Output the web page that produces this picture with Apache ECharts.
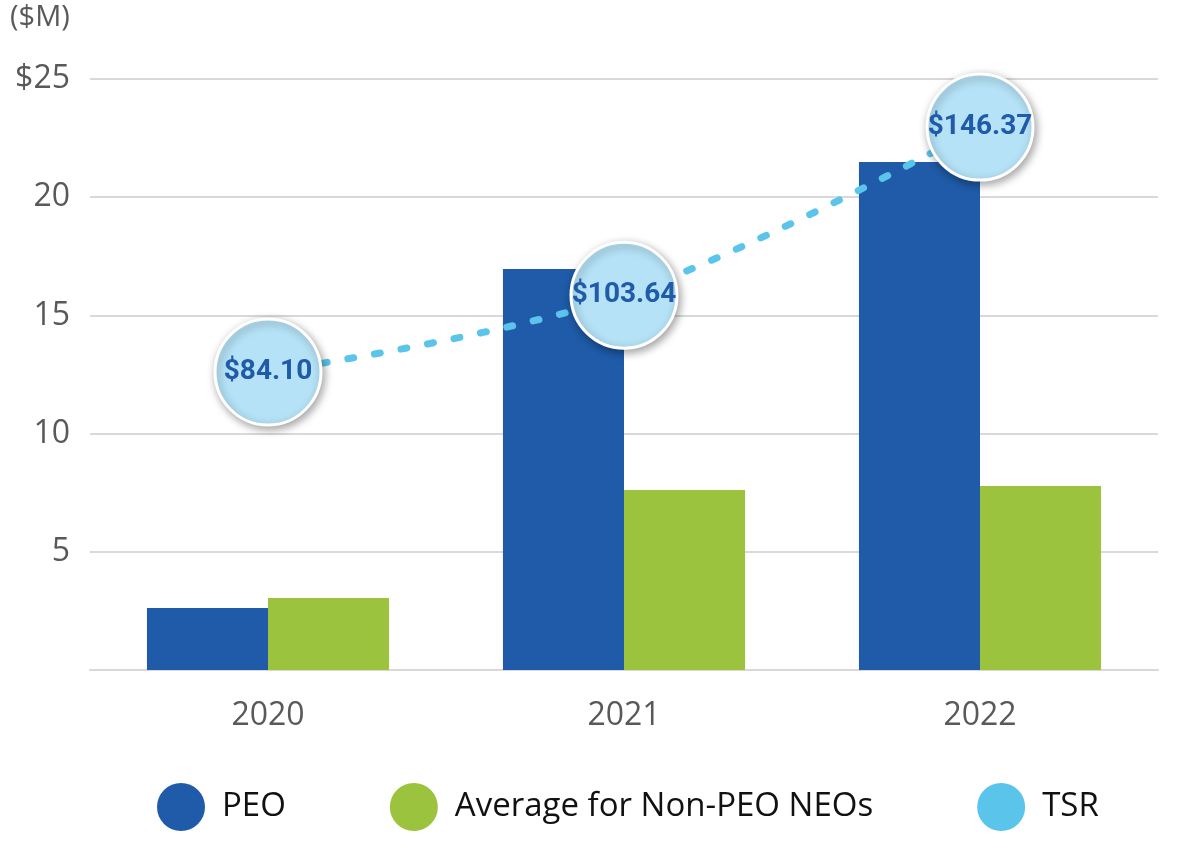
<!DOCTYPE html>
<html>
<head>
<meta charset="utf-8">
<script src="https://cdn.jsdelivr.net/npm/echarts@6/dist/echarts.min.js"></script>
<style>
html,body{margin:0;padding:0;background:#fff;}
#chart{width:1182px;height:850px;}
</style>
</head>
<body>
<div id="chart"></div>
<script>
const categories = ['2020', '2021', '2022'];
const peoValues = [2.62, 16.96, 21.49];
const nonPeoValues = [3.05, 7.61, 7.78];
const tsrValues = [84.10, 103.64, 146.37];
const yTickLabels = ['', '5', '10', '15', '20', '$25'];
const seriesNames = ['PEO', 'Average for Non-PEO NEOs', 'TSR'];

const chart = echarts.init(document.getElementById('chart'));
const baseFont = '"Open Sans", "Noto Sans", sans-serif';
const condFont = 'Roboto, "Noto Sans", sans-serif';

chart.setOption({
  animation: false,
  backgroundColor: '#fff',
  graphic: [{
    type: 'text', left: 10, top: 3,
    style: { text: '($M)', fontSize: 29, fill: '#595959', fontFamily: baseFont }
  }],
  grid: { left: 90, right: 24, top: 79, bottom: 180 },
  legend: {
    left: 152, top: 778,
    itemWidth: 48, itemHeight: 48, itemGap: 104,
    icon: 'circle',
    textStyle: { fontSize: 33, color: '#111', fontFamily: baseFont, padding: [0, 0, 0, 12] },
    data: [
      { name: seriesNames[0] },
      { name: seriesNames[1] },
      { name: seriesNames[2], itemStyle: { color: '#5BC4EA', borderWidth: 0, shadowBlur: 0, shadowOffsetX: 0, shadowOffsetY: 0 }, lineStyle: { opacity: 0 } }
    ]
  },
  xAxis: {
    type: 'category',
    data: categories,
    axisLine: { lineStyle: { color: '#d9d9d9', width: 2 } },
    axisTick: { show: false },
    axisLabel: { fontSize: 32, color: '#595959', margin: 30, fontFamily: baseFont }
  },
  yAxis: [{
    type: 'value', min: 0, max: 25, interval: 5,
    axisLine: { show: false }, axisTick: { show: false },
    splitLine: { lineStyle: { color: '#d9d9d9', width: 2 } },
    axisLabel: {
      fontSize: 32, color: '#595959', margin: 20, fontFamily: baseFont,
      formatter: v => yTickLabels[Math.round(v / 5)]
    }
  }, {
    type: 'value', min: 8.35, max: 158.6,
    show: false, splitLine: { show: false }
  }],
  series: [{
    name: seriesNames[0], type: 'bar', data: peoValues,
    barWidth: '34%', barGap: '0%',
    itemStyle: { color: '#1F5BA8' }
  }, {
    name: seriesNames[1], type: 'bar', data: nonPeoValues,
    barWidth: '34%', barGap: '0%',
    itemStyle: { color: '#9BC33D' }
  }, {
    name: seriesNames[2], type: 'line', yAxisIndex: 1, data: tsrValues,
    smooth: 0.35, z: 5,
    symbol: 'circle', symbolSize: 106,
    lineStyle: { color: '#5BC4EA', width: 7, type: [6, 21], cap: 'round' },
    itemStyle: {
      color: '#B5E2F6', borderColor: '#fff', borderWidth: 3,
      shadowBlur: 8, shadowColor: 'rgba(0,0,0,0.35)', shadowOffsetX: 2, shadowOffsetY: 3
    },
    label: {
      show: true, position: 'inside',
      formatter: p => '$' + p.value.toFixed(2),
      fontSize: 28, fontWeight: 'bold', color: '#1F5BA8', fontFamily: condFont
    }
  }]
});
</script>
</body>
</html>
